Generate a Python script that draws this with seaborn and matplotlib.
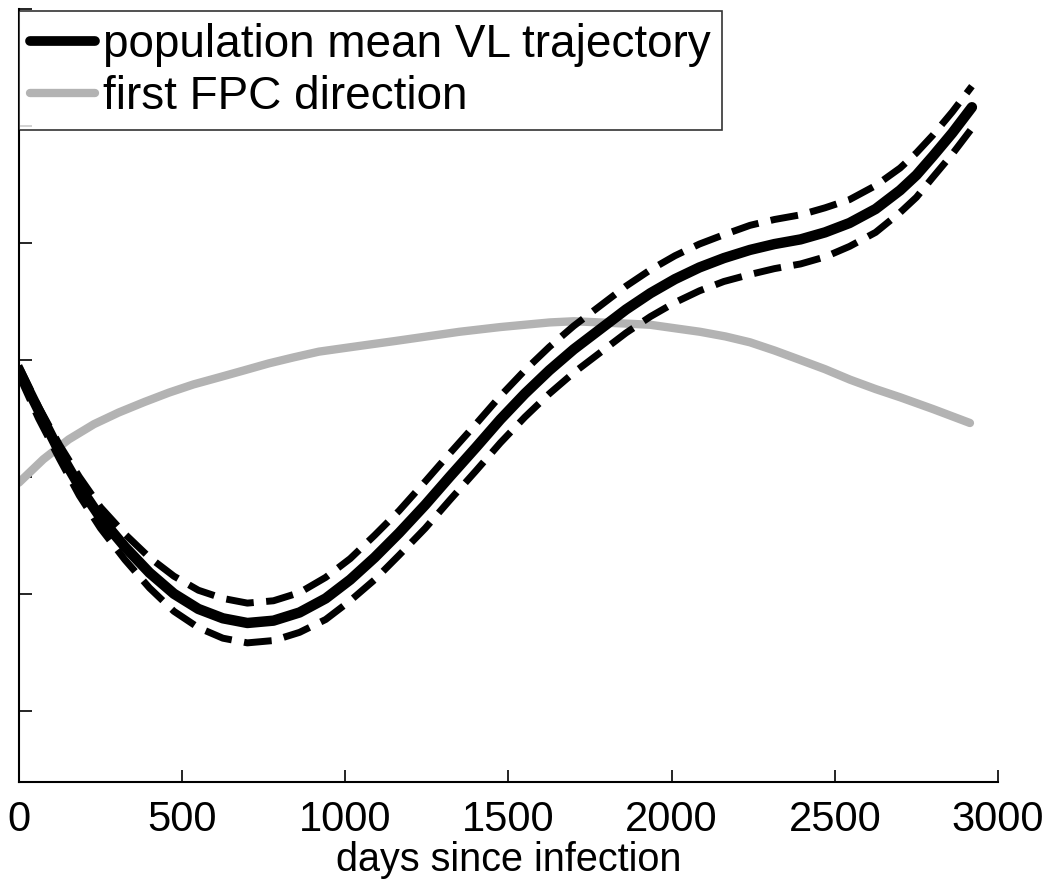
import numpy as np
import pandas as pd
import matplotlib
matplotlib.use('Agg')
import matplotlib.pyplot as plt
import seaborn as sns

# population mean VL trajectory with pointwise band
days = [0, 60, 125, 185, 250, 325, 400, 475, 550, 625, 700, 780, 860, 940, 1015,
        1090, 1165, 1245, 1320, 1400, 1475, 1550, 1625, 1700, 1780, 1860, 1935,
        2010, 2085, 2160, 2240, 2315, 2395, 2470, 2545, 2625, 2700, 2750, 2800,
        2860, 2920]
mean_vl = [4.91, 4.57, 4.21, 3.92, 3.65, 3.40, 3.18, 3.00, 2.87, 2.79, 2.75, 2.77,
           2.84, 2.96, 3.12, 3.31, 3.52, 3.76, 4.00, 4.25, 4.49, 4.71, 4.91, 5.09,
           5.26, 5.43, 5.57, 5.69, 5.79, 5.87, 5.94, 5.99, 6.03, 6.09, 6.17, 6.29,
           6.45, 6.58, 6.74, 6.94, 7.16]
upper_vl = [4.95, 4.60, 4.27, 4.00, 3.74, 3.51, 3.31, 3.15, 3.03, 2.96, 2.92, 2.94,
            3.01, 3.14, 3.30, 3.50, 3.71, 3.96, 4.20, 4.45, 4.69, 4.91, 5.11, 5.29,
            5.46, 5.63, 5.77, 5.89, 5.99, 6.07, 6.15, 6.20, 6.24, 6.30, 6.37, 6.49,
            6.64, 6.77, 6.92, 7.12, 7.34]
lower_vl = [4.87, 4.50, 4.15, 3.84, 3.56, 3.29, 3.05, 2.85, 2.71, 2.62, 2.58, 2.60,
            2.67, 2.78, 2.94, 3.12, 3.33, 3.56, 3.80, 4.05, 4.29, 4.51, 4.71, 4.89,
            5.06, 5.23, 5.37, 5.49, 5.59, 5.67, 5.73, 5.78, 5.82, 5.88, 5.97, 6.09,
            6.26, 6.39, 6.56, 6.76, 6.98]

# first FPC direction
fpc_days = [0, 75, 153, 230, 306, 385, 460, 535, 613, 690, 766, 840, 919, 995,
            1072, 1150, 1225, 1350, 1474, 1550, 1627, 1700, 1780, 1860, 1934, 2010,
            2087, 2165, 2240, 2315, 2393, 2470, 2547, 2625, 2700, 2800, 2914]
fpc_vals = [3.95, 4.15, 4.32, 4.45, 4.55, 4.64, 4.72, 4.79, 4.85, 4.91, 4.97, 5.02,
            5.07, 5.10, 5.13, 5.16, 5.19, 5.24, 5.28, 5.30, 5.32, 5.33, 5.32, 5.31,
            5.30, 5.27, 5.24, 5.20, 5.15, 5.08, 5.00, 4.92, 4.83, 4.75, 4.68, 4.58,
            4.46]

x_ticks = [0, 500, 1000, 1500, 2000, 2500, 3000]
y_ticks = [2, 3, 4, 5, 6, 7, 8]

df = pd.DataFrame({'days': days, 'mean': mean_vl, 'upper': upper_vl, 'lower': lower_vl})
df_fpc = pd.DataFrame({'days': fpc_days, 'fpc': fpc_vals})

sns.set_style('ticks')
plt.rcParams['font.family'] = ['Liberation Sans', 'DejaVu Sans']
plt.rcParams['xtick.direction'] = 'in'
plt.rcParams['ytick.direction'] = 'in'
plt.rcParams['text.color'] = 'black'
plt.rcParams['axes.labelcolor'] = 'black'
plt.rcParams['xtick.color'] = 'black'
plt.rcParams['ytick.color'] = 'black'
plt.rcParams['axes.edgecolor'] = 'black'

fig = plt.figure(figsize=(10.5, 8.9), dpi=100)
ax = fig.add_axes([0.018, 0.1213, 0.9325, 0.8686])

sns.lineplot(data=df_fpc, x='days', y='fpc', color='#b3b3b3', linewidth=6, ax=ax,
             label='first FPC direction', zorder=2)
for col in ['upper', 'lower']:
    sns.lineplot(data=df, x='days', y=col, color='black', linewidth=5, ax=ax,
                 dashes=False, zorder=3)
    ax.lines[-1].set_dashes((4, 1.8))
sns.lineplot(data=df, x='days', y='mean', color='black', linewidth=7.5, ax=ax,
             label='population mean VL trajectory', zorder=4)

ax.set_xlim(0, 3000)
ax.set_ylim(1.39, 8)
ax.set_xticks(x_ticks)
ax.set_yticks(y_ticks)
ax.set_yticklabels([])
ax.tick_params(axis='both', length=9, width=1.2, labelsize=30, pad=13)
ax.set_xlabel('days since infection', fontsize=28.5, labelpad=1)
ax.set_ylabel('')
for s in ['top', 'right']:
    ax.spines[s].set_visible(False)
for s in ['left', 'bottom']:
    ax.spines[s].set_linewidth(1.5)

handles, labels = ax.get_legend_handles_labels()
order = [labels.index('population mean VL trajectory'), labels.index('first FPC direction')]
leg = ax.legend([handles[i] for i in order], [labels[i] for i in order],
                loc='upper left', bbox_to_anchor=(0, 0.997), borderaxespad=0,
                fontsize=33, frameon=True, fancybox=False, edgecolor='black',
                handlelength=1.42, handletextpad=0.17, labelspacing=0.18,
                borderpad=0.25)
leg.get_frame().set_linewidth(1.2)
leg.get_lines()[0].set_linewidth(7)
leg.get_lines()[1].set_linewidth(6)

fig.savefig('out.png', dpi=100)
plt.close(fig)
